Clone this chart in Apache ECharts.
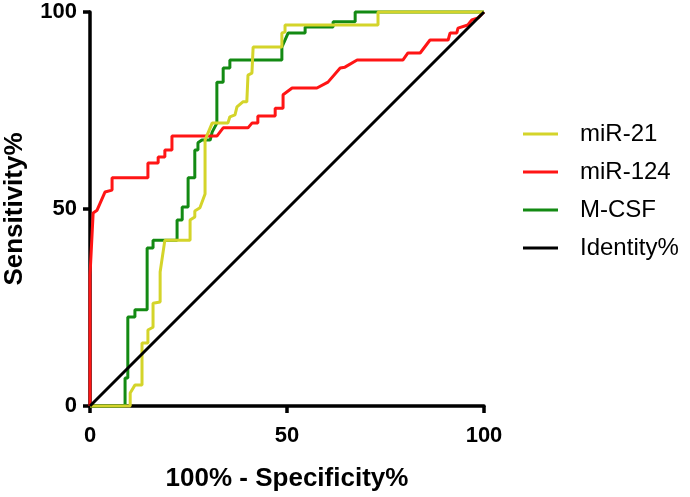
<!DOCTYPE html>
<html>
<head>
<meta charset="utf-8">
<script src="https://cdn.jsdelivr.net/npm/echarts@6/dist/echarts.min.js"></script>
<style>
  html, body { margin: 0; padding: 0; background: #fff; }
  #chart { width: 690px; height: 497px; }
</style>
</head>
<body>
<div id="chart"></div>
<script>
// ROC curves, x = 100% - Specificity%, y = Sensitivity%
const mir21X = [0, 10.2, 10.2, 11.4, 13.2, 13.2, 14.7, 14.7, 16, 16, 17.8, 17.8, 19, 25.4, 25.4, 26.6, 26.6, 27.9, 29.2, 29.2, 31, 35, 35.5, 36.8, 37.3, 38.8, 39.8, 40.1, 41.1, 41.4, 48.7, 48.7, 49.5, 49.5, 73.1, 73.1, 100]
const mir21Y = [0, 0, 3.3, 5.3, 5.3, 16, 16, 19.3, 20, 26.1, 26.4, 34, 42.1, 42.1, 47.2, 48, 49.5, 50.3, 53.8, 67.5, 71.8, 71.8, 73.4, 73.9, 75.9, 77.2, 77.2, 84, 84.5, 91.1, 91.1, 94.7, 94.9, 96.7, 96.7, 100, 100]

const mir124X = [0, 0, 0.5, 0.8, 1.8, 3.8, 4.3, 5.6, 5.6, 14.7, 14.7, 17.3, 17.3, 19, 19, 20.8, 20.8, 32.2, 33.8, 40.1, 41.1, 42.6, 42.6, 47, 47, 49, 49, 51.3, 57.6, 60.4, 63.5, 64.7, 67.8, 79.4, 80.7, 83.8, 86.3, 90.9, 91.4, 93.1, 93.4, 95.9, 96.9, 98.5, 100]
const mir124Y = [0, 33.2, 33.2, 49, 49.7, 54.3, 54.3, 54.8, 57.9, 57.9, 61.7, 61.7, 63.2, 63.2, 65, 65, 68.5, 68.5, 70.6, 70.6, 71.8, 71.8, 73.6, 73.6, 75.6, 75.6, 79, 80.7, 80.7, 82.2, 85.8, 86, 87.8, 87.8, 89.6, 89.6, 92.9, 92.9, 94.7, 94.7, 95.9, 96.7, 98, 98.5, 100]

const mcsfX = [0, 8.9, 8.9, 9.6, 9.6, 11.4, 11.4, 14.5, 14.5, 16, 16, 22.1, 22.1, 23.4, 23.4, 24.9, 24.9, 26.6, 26.6, 27.4, 27.4, 28.4, 30.5, 31, 32.2, 32.2, 33.8, 33.8, 35.5, 35.5, 48.7, 48.7, 50.3, 54.6, 54.6, 61.7, 61.7, 67.3, 67.3, 100]
const mcsfY = [0, 0, 7.1, 7.1, 22.6, 22.6, 24.4, 24.4, 40.1, 40.1, 42.1, 42.1, 47.2, 47.2, 50.5, 50.5, 57.9, 57.9, 65, 65, 66.8, 67.5, 67.5, 69.5, 71.8, 82.2, 82.2, 85.8, 85.8, 87.8, 87.8, 91.1, 94.7, 94.7, 96.2, 96.2, 97.5, 97.5, 100, 100]

const identityX = [0, 100]
const identityY = [0, 100]

const axisTicks = [0, 50, 100]

const seriesNames = ['miR-21', 'miR-124', 'M-CSF', 'Identity%']
const seriesColors = ['#d4d42a', '#ff1515', '#138a13', '#000000']

function zipPoints (xs, ys) {
  return xs.map((x, i) => [x, ys[i]])
}

const chart = echarts.init(document.getElementById('chart'))

const fontFamily = 'Liberation Sans, Arial, sans-serif'

function makeAxis (name, nameGap, labelMargin) {
  return {
    type: 'value',
    min: axisTicks[0],
    max: axisTicks[axisTicks.length - 1],
    interval: axisTicks[1] - axisTicks[0],
    name: name,
    nameLocation: 'middle',
    nameGap: nameGap,
    nameTextStyle: {
      color: '#000',
      fontFamily: fontFamily,
      fontWeight: 'bold',
      fontSize: 26
    },
    axisLine: { show: true, lineStyle: { color: '#000', width: 3.5 } },
    axisTick: { show: true, inside: false, length: 7, lineStyle: { color: '#000', width: 3.5 } },
    axisLabel: {
      margin: labelMargin,
      color: '#000',
      fontFamily: fontFamily,
      fontWeight: 'bold',
      fontSize: 22
    },
    splitLine: { show: false }
  }
}

const datasets = [
  [mir21X, mir21Y, 4],
  [mir124X, mir124Y, 3],
  [mcsfX, mcsfY, 2],
  [identityX, identityY, 5]
]

const option = {
  animation: false,
  backgroundColor: '#fff',
  grid: { left: 90, right: 206, top: 12, bottom: 91, containLabel: false, outerBoundsMode: 'none' },
  legend: {
    orient: 'vertical',
    left: 518,
    top: 117,
    itemWidth: 35,
    itemHeight: 3,
    itemGap: 14,
    icon: 'rect',
    data: seriesNames,
    textStyle: {
      color: '#000',
      fontFamily: fontFamily,
      fontSize: 24,
      padding: [0, 0, 0, 17]
    }
  },
  xAxis: makeAxis('100% - Specificity%', 60, 19),
  yAxis: makeAxis('Sensitivity%', 62, 13),
  series: datasets.map(([xs, ys, z], i) => ({
    name: seriesNames[i],
    type: 'line',
    data: zipPoints(xs, ys),
    showSymbol: false,
    symbol: 'none',
    clip: false,
    z: z,
    color: seriesColors[i],
    lineStyle: { color: seriesColors[i], width: 3 }
  }))
}

chart.setOption(option)
</script>
</body>
</html>
